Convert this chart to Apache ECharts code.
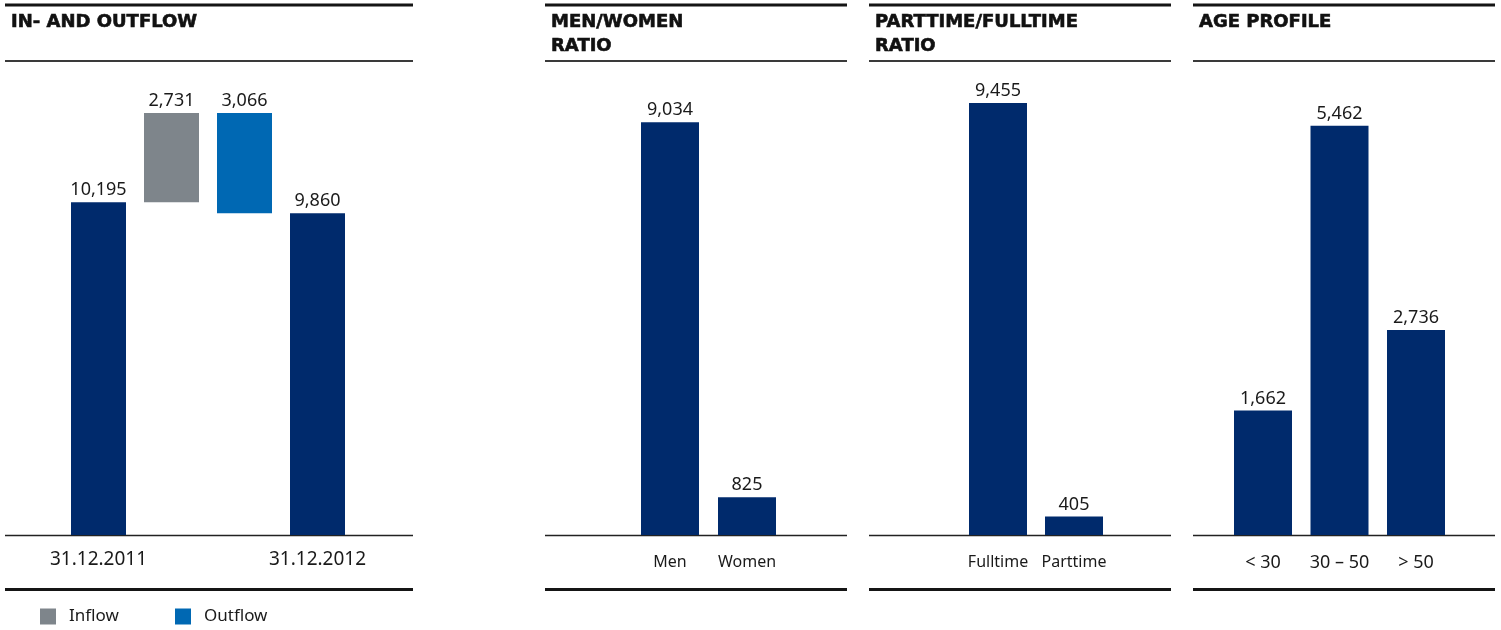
<!DOCTYPE html>
<html>
<head>
<meta charset="utf-8">
<script src="https://cdn.jsdelivr.net/npm/echarts@6/dist/echarts.min.js"></script>
<style>
  html, body { margin: 0; padding: 0; background: #fff; }
  #chart { width: 1501px; height: 630px; }
</style>
</head>
<body>
<div id="chart"></div>
<script>
// In- and outflow (waterfall)
const flowCategories = ['31.12.2011', '', '', '31.12.2012'];
const headcountStart = 10195;
const inflow = 2731;
const outflow = 3066;
const headcountEnd = 9860;

// Men / women
const genderCategories = ['Men', 'Women'];
const genderValues = [9034, 825];

// Parttime / fulltime
const workCategories = ['Fulltime', 'Parttime'];
const workValues = [9455, 405];

// Age profile
const ageCategories = ['< 30', '30 – 50', '> 50'];
const ageValues = [1662, 5462, 2736];

const NAVY = '#002a6c';
const GREY = '#7e858b';
const BLUE = '#0068b3';
const INK = '#1a1a1a';
const NUM_FONT = 'Noto Sans';
const HEAD_FONT = 'DejaVu Sans';

const fmt = v => Number(v).toLocaleString('en-US');

// panel frames: [left, right]
const panels = [[5, 413], [545, 847], [869, 1171], [1193, 1495]];
const GRID_TOP = 78, GRID_H = 457;

const grids = [
  { left: 62, width: 292 },
  { left: 631.5, width: 154 },
  { left: 960, width: 152 },
  { left: 1224.75, width: 229.5 }
].map(g => ({ left: g.left, width: g.width, top: GRID_TOP, height: GRID_H }));

const xCats = [flowCategories, genderCategories, workCategories, ageCategories];
const yMax = [14000, 10000, 10000, 6100];

const xAxes = xCats.map((cats, i) => ({
  type: 'category', gridIndex: i, data: cats,
  axisLine: { show: false }, axisTick: { show: false },
  axisLabel: {
    color: INK, fontFamily: NUM_FONT,
    fontSize: i === 0 ? 19 : (i === 3 ? 18 : 16),
    margin: i === 0 ? 15 : 19, interval: 0
  }
}));
const yAxes = yMax.map((m, i) => ({
  type: 'value', gridIndex: i, min: 0, max: m, show: false,
  splitLine: { show: false }
}));

const topLabel = {
  show: true, position: 'top', distance: 3, color: INK,
  fontFamily: NUM_FONT, fontSize: 18,
  formatter: p => fmt(p.value)
};

// waterfall offsets
const outflowBase = headcountStart + inflow - outflow;

const series = [
  {
    name: 'base', type: 'bar', stack: 'flow', xAxisIndex: 0, yAxisIndex: 0,
    barWidth: 55, silent: true,
    itemStyle: { color: 'transparent' },
    data: ['-', headcountStart, outflowBase, '-']
  },
  {
    name: 'Headcount', type: 'bar', stack: 'flow', xAxisIndex: 0, yAxisIndex: 0,
    barWidth: 55, itemStyle: { color: NAVY }, label: topLabel,
    data: [headcountStart, '-', '-', headcountEnd]
  },
  {
    name: 'Inflow', type: 'bar', stack: 'flow', xAxisIndex: 0, yAxisIndex: 0,
    barWidth: 55, itemStyle: { color: GREY }, label: topLabel,
    data: ['-', inflow, '-', '-']
  },
  {
    name: 'Outflow', type: 'bar', stack: 'flow', xAxisIndex: 0, yAxisIndex: 0,
    barWidth: 55, itemStyle: { color: BLUE }, label: topLabel,
    data: ['-', '-', outflow, '-']
  },
  {
    name: 'Gender', type: 'bar', xAxisIndex: 1, yAxisIndex: 1,
    barWidth: 58, itemStyle: { color: NAVY }, label: topLabel,
    data: genderValues
  },
  {
    name: 'Working time', type: 'bar', xAxisIndex: 2, yAxisIndex: 2,
    barWidth: 58, itemStyle: { color: NAVY }, label: topLabel,
    data: workValues
  },
  {
    name: 'Age', type: 'bar', xAxisIndex: 3, yAxisIndex: 3,
    barWidth: 58, itemStyle: { color: NAVY }, label: topLabel,
    data: ageValues
  }
];

// frame rules for every panel
const rule = (x1, x2, y, w, c) => ({
  type: 'line', silent: true,
  shape: { x1, y1: y, x2, y2: y },
  style: { stroke: c, lineWidth: w }
});
const graphics = [];
panels.forEach(([a, b]) => {
  graphics.push(rule(a, b, 5, 3, '#151515'));
  graphics.push(rule(a, b, 61, 2, '#3a3a3a'));
  graphics.push(rule(a, b, 535.5, 1.5, '#222'));
  graphics.push(rule(a, b, 589.5, 3, '#151515'));
});

const headStyle = {
  color: '#111', fontFamily: HEAD_FONT, fontWeight: 'bold',
  fontSize: 18, lineHeight: 24,
  textBorderColor: '#111', textBorderWidth: 0.6
};
const titles = [
  { text: 'IN- AND OUTFLOW', left: 11, top: 10 },
  { text: 'MEN/WOMEN\nRATIO', left: 551, top: 10 },
  { text: 'PARTTIME/FULLTIME\nRATIO', left: 875, top: 10 },
  { text: 'AGE PROFILE', left: 1199, top: 10 }
].map(t => Object.assign(t, { padding: 0, textStyle: headStyle }));

const legendText = { color: INK, fontFamily: NUM_FONT, fontSize: 17, padding: [2, 0, 0, 8] };
const legends = [
  { data: ['Inflow'], left: 40, top: 608 },
  { data: ['Outflow'], left: 175, top: 608 }
].map(l => Object.assign(l, {
  icon: 'rect', itemWidth: 16, itemHeight: 16, padding: 0,
  textStyle: legendText, selectedMode: false
}));

const chart = echarts.init(document.getElementById('chart'));
chart.setOption({
  animation: false,
  backgroundColor: '#fff',
  title: titles,
  legend: legends,
  grid: grids,
  xAxis: xAxes,
  yAxis: yAxes,
  series,
  graphic: graphics
});
</script>
</body>
</html>
